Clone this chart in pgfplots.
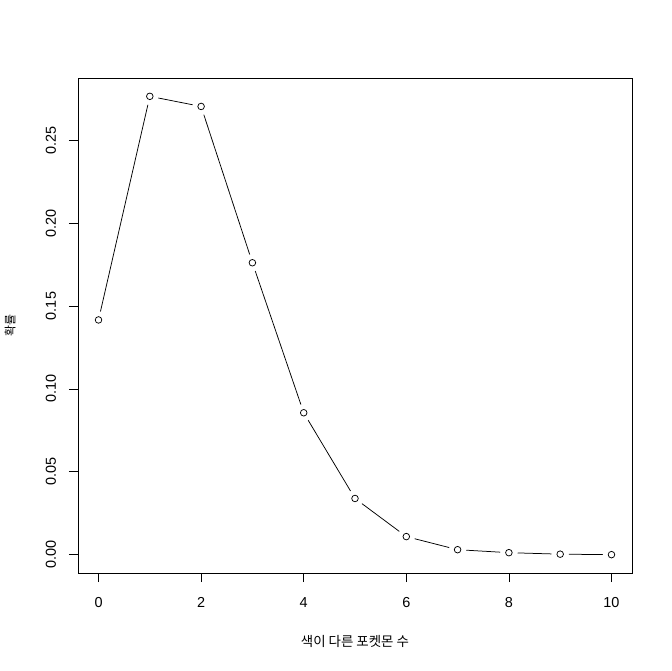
\documentclass[border=0pt]{standalone}
\usepackage{fontspec}
\setmainfont{Liberation Sans}
\newfontfamily\kr{Noto Sans CJK KR}
\usepackage{pgfplots}
\usepackage{pgfplotstable}
\pgfplotsset{compat=1.18}

\pgfplotstableread{
x p
0 0.1416
1 0.2765
2 0.2704
3 0.1761
4 0.0856
5 0.0339
6 0.0109
7 0.0030
8 0.0012
9 0.0003
10 0.0000
}\probs

\begin{document}
\begin{tikzpicture}
\path (0,0) rectangle (672bp,671bp);
\begin{axis}[
    at={(78bp,98bp)}, anchor=south west,
    scale only axis,
    width=554bp, height=495bp,
    xmin=-0.4, xmax=10.4,
    ymin=-0.01106, ymax=0.28756,
    xtick={0,2,4,6,8,10},
    ytick={0,0.05,0.1,0.15,0.2,0.25},
    axis line style={line width=0.75bp},
    tick style={line width=0.75bp, black},
    tick align=outside,
    major tick length=9bp,
    xtick pos=bottom, ytick pos=left,
    tick label style={font=\fontsize{14.5}{16}\selectfont},
    /pgf/number format/assume math mode=true,
    yticklabel style={/pgf/number format/fixed, /pgf/number format/fixed zerofill,
        /pgf/number format/precision=2,
        xshift=-13bp, rotate=90, anchor=base},
    xticklabel style={yshift=-25bp, anchor=base},
    scaled y ticks=false,
    xlabel={\kr 색이 다른 포켓몬 수},
    ylabel={\kr 확률},
    xlabel style={at={(axis description cs:0.5,-0.1374)}, anchor=center, font=\fontsize{13.5}{15}\selectfont},
    ylabel style={at={(axis description cs:-0.1227,0.5)}, anchor=center, font=\fontsize{12}{14}\selectfont},
]
\addplot[black, line width=0.75bp, mark=none] table[x=x, y=p] {\probs};
\addplot[white, only marks, mark=*, mark size=8.5bp, mark options={fill=white, draw=white}] table[x=x, y=p] {\probs};
\addplot[black, only marks, mark=o, mark size=3.3bp, mark options={line width=0.75bp}] table[x=x, y=p] {\probs};
\end{axis}
\end{tikzpicture}
\end{document}
